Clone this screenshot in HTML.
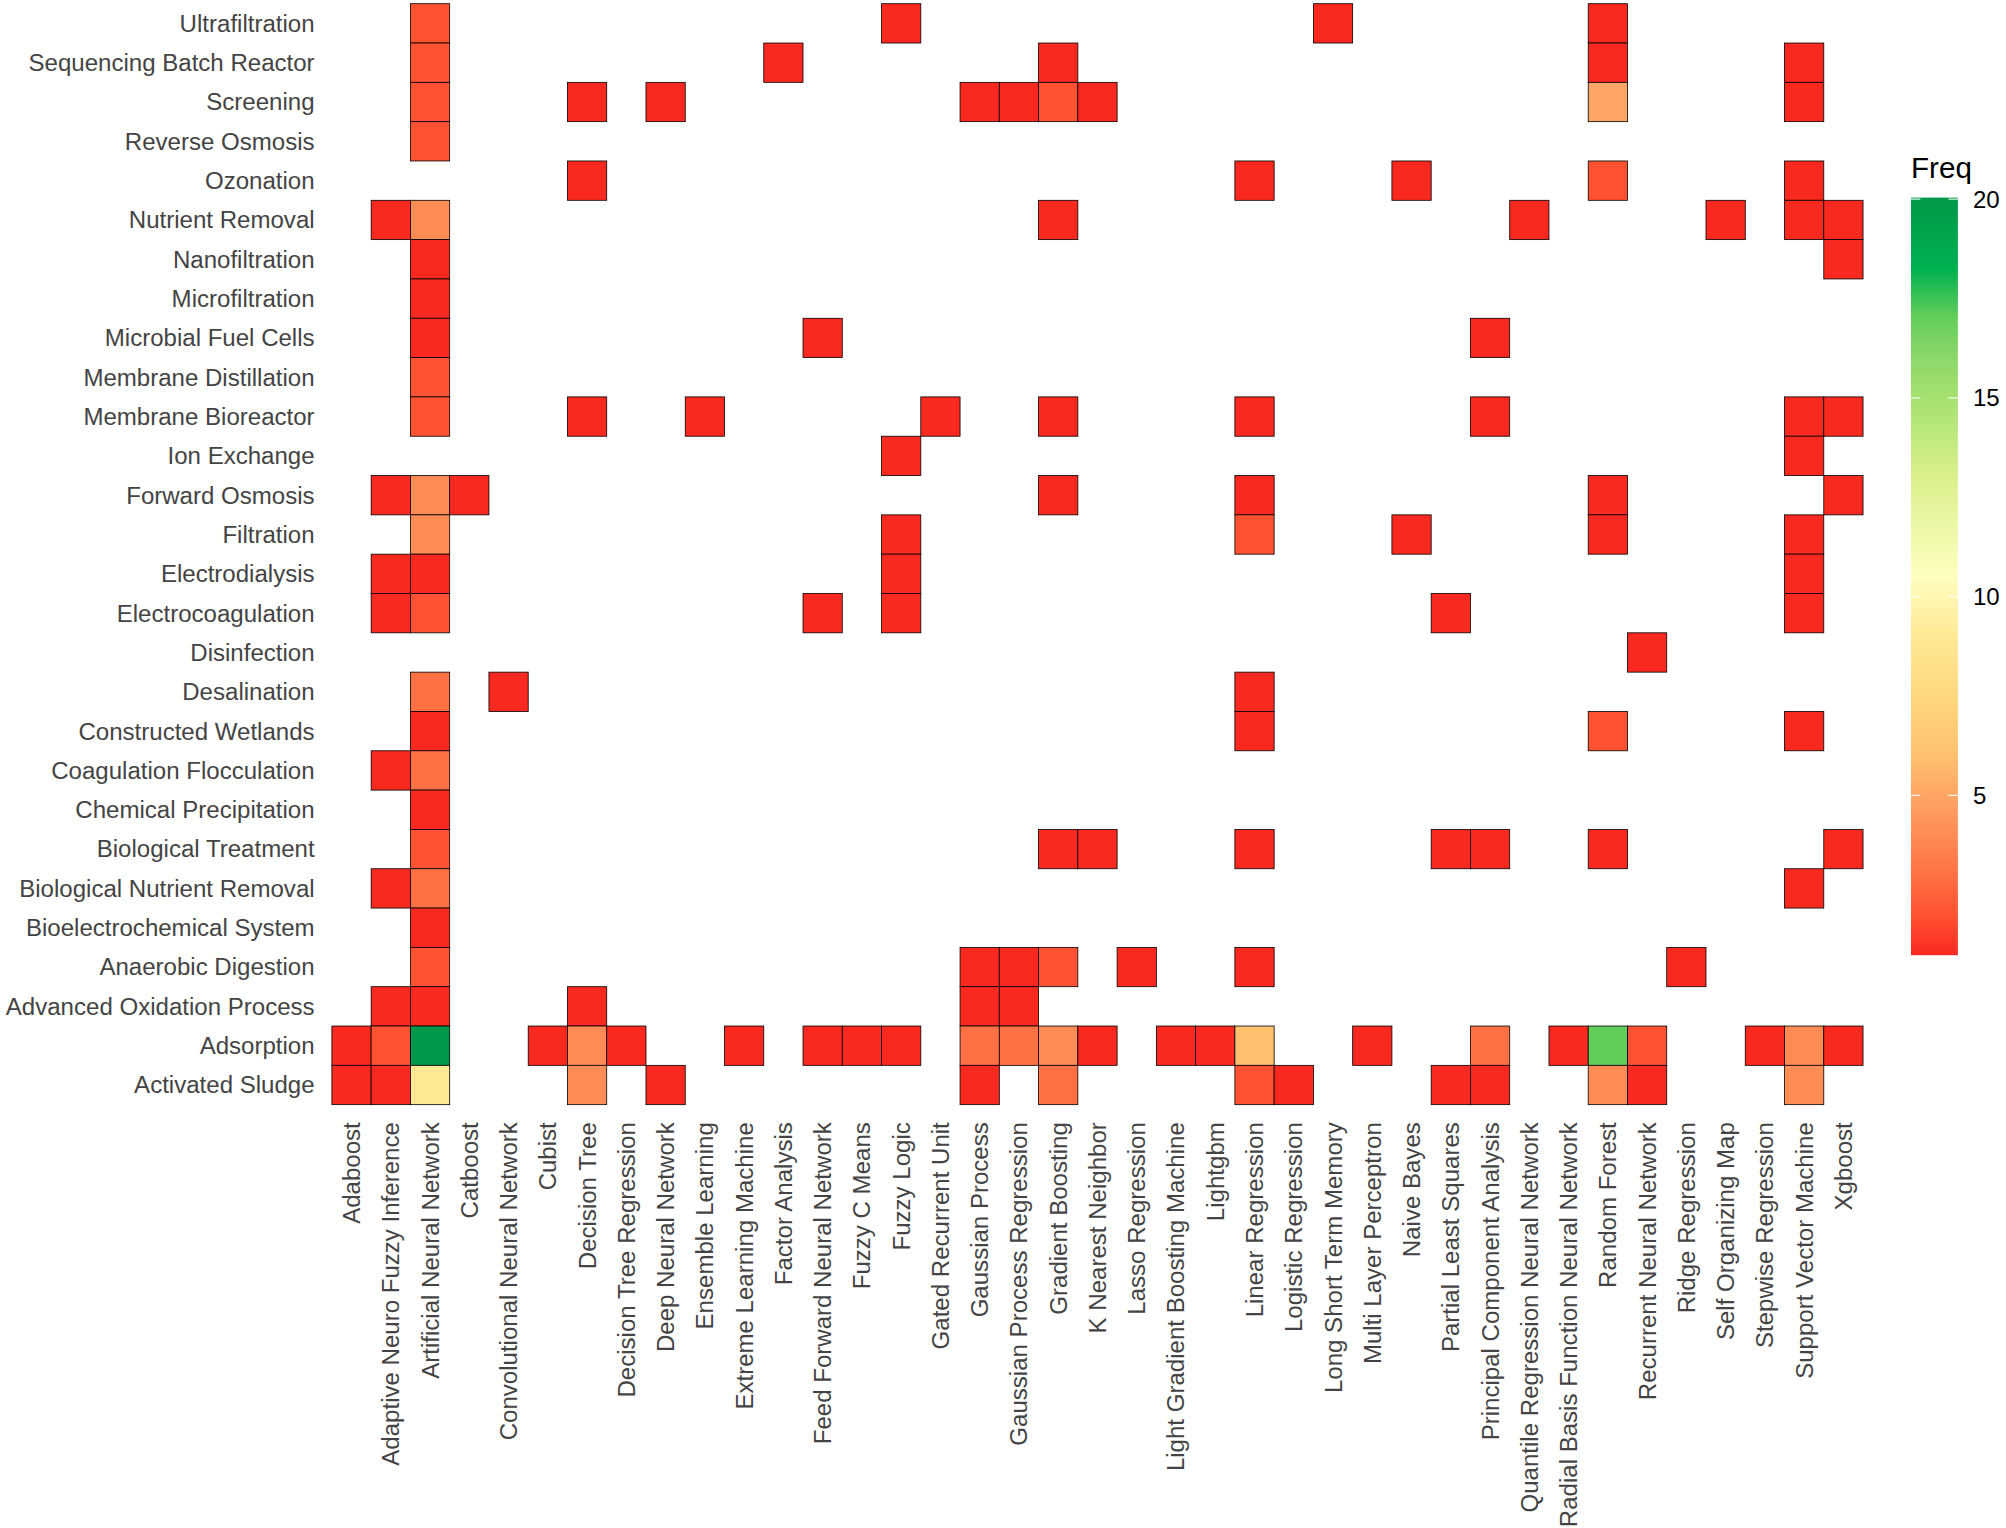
<!DOCTYPE html>
<html lang="en"><head><meta charset="utf-8"><title>Heatmap</title>
<style>
html,body{margin:0;padding:0;background:#fff;}
body{width:2006px;height:1528px;overflow:hidden;}
svg{display:block;font-family:"Liberation Sans",Arial,Helvetica,sans-serif;}
.ax{font-size:24.05px;fill:#444444;}
.lg{font-size:24.05px;fill:#000;}
.lt{font-size:29.6px;fill:#000;}
.c{stroke:#000;stroke-width:0.8;}
</style></head><body>
<svg width="2006" height="1528" viewBox="0 0 2006 1528">
<defs><linearGradient id="g" x1="0" y1="1" x2="0" y2="0">
<stop offset="0.00%" stop-color="#F92920"/>
<stop offset="5.26%" stop-color="#FF5232"/>
<stop offset="10.53%" stop-color="#FF7043"/>
<stop offset="15.79%" stop-color="#FF8C55"/>
<stop offset="21.05%" stop-color="#FFA565"/>
<stop offset="26.32%" stop-color="#FFC070"/>
<stop offset="34.21%" stop-color="#FFD880"/>
<stop offset="42.11%" stop-color="#FFE894"/>
<stop offset="50.00%" stop-color="#FFFFBF"/>
<stop offset="63.16%" stop-color="#DAF08C"/>
<stop offset="73.68%" stop-color="#A5E170"/>
<stop offset="78.95%" stop-color="#8CD769"/>
<stop offset="84.21%" stop-color="#62CE5A"/>
<stop offset="87.37%" stop-color="#32C055"/>
<stop offset="90.53%" stop-color="#00B150"/>
<stop offset="100.00%" stop-color="#00984A"/>
</linearGradient></defs>
<rect width="2006" height="1528" fill="#fff"/>
<g class="c">
<rect x="410.42" y="3.70" width="39.26" height="39.32" fill="#FF5232"/>
<rect x="881.54" y="3.70" width="39.26" height="39.32" fill="#F92920"/>
<rect x="1313.40" y="3.70" width="39.26" height="39.32" fill="#F92920"/>
<rect x="1588.22" y="3.70" width="39.26" height="39.32" fill="#F92920"/>
<rect x="410.42" y="43.02" width="39.26" height="39.32" fill="#FF5232"/>
<rect x="763.76" y="43.02" width="39.26" height="39.32" fill="#F92920"/>
<rect x="1038.58" y="43.02" width="39.26" height="39.32" fill="#F92920"/>
<rect x="1588.22" y="43.02" width="39.26" height="39.32" fill="#F92920"/>
<rect x="1784.52" y="43.02" width="39.26" height="39.32" fill="#F92920"/>
<rect x="410.42" y="82.34" width="39.26" height="39.32" fill="#FF5232"/>
<rect x="567.46" y="82.34" width="39.26" height="39.32" fill="#F92920"/>
<rect x="645.98" y="82.34" width="39.26" height="39.32" fill="#F92920"/>
<rect x="960.06" y="82.34" width="39.26" height="39.32" fill="#F92920"/>
<rect x="999.32" y="82.34" width="39.26" height="39.32" fill="#F92920"/>
<rect x="1038.58" y="82.34" width="39.26" height="39.32" fill="#FF5232"/>
<rect x="1077.84" y="82.34" width="39.26" height="39.32" fill="#F92920"/>
<rect x="1588.22" y="82.34" width="39.26" height="39.32" fill="#FFA565"/>
<rect x="1784.52" y="82.34" width="39.26" height="39.32" fill="#F92920"/>
<rect x="410.42" y="121.66" width="39.26" height="39.32" fill="#FF5232"/>
<rect x="567.46" y="160.98" width="39.26" height="39.32" fill="#F92920"/>
<rect x="1234.88" y="160.98" width="39.26" height="39.32" fill="#F92920"/>
<rect x="1391.92" y="160.98" width="39.26" height="39.32" fill="#F92920"/>
<rect x="1588.22" y="160.98" width="39.26" height="39.32" fill="#FF5232"/>
<rect x="1784.52" y="160.98" width="39.26" height="39.32" fill="#F92920"/>
<rect x="371.16" y="200.30" width="39.26" height="39.32" fill="#F92920"/>
<rect x="410.42" y="200.30" width="39.26" height="39.32" fill="#FF8C55"/>
<rect x="1038.58" y="200.30" width="39.26" height="39.32" fill="#F92920"/>
<rect x="1509.70" y="200.30" width="39.26" height="39.32" fill="#F92920"/>
<rect x="1706.00" y="200.30" width="39.26" height="39.32" fill="#F92920"/>
<rect x="1784.52" y="200.30" width="39.26" height="39.32" fill="#F92920"/>
<rect x="1823.78" y="200.30" width="39.26" height="39.32" fill="#F92920"/>
<rect x="410.42" y="239.62" width="39.26" height="39.32" fill="#F92920"/>
<rect x="1823.78" y="239.62" width="39.26" height="39.32" fill="#F92920"/>
<rect x="410.42" y="278.94" width="39.26" height="39.32" fill="#F92920"/>
<rect x="410.42" y="318.26" width="39.26" height="39.32" fill="#F92920"/>
<rect x="803.02" y="318.26" width="39.26" height="39.32" fill="#F92920"/>
<rect x="1470.44" y="318.26" width="39.26" height="39.32" fill="#F92920"/>
<rect x="410.42" y="357.58" width="39.26" height="39.32" fill="#FF5232"/>
<rect x="410.42" y="396.90" width="39.26" height="39.32" fill="#FF5232"/>
<rect x="567.46" y="396.90" width="39.26" height="39.32" fill="#F92920"/>
<rect x="685.24" y="396.90" width="39.26" height="39.32" fill="#F92920"/>
<rect x="920.80" y="396.90" width="39.26" height="39.32" fill="#F92920"/>
<rect x="1038.58" y="396.90" width="39.26" height="39.32" fill="#F92920"/>
<rect x="1234.88" y="396.90" width="39.26" height="39.32" fill="#F92920"/>
<rect x="1470.44" y="396.90" width="39.26" height="39.32" fill="#F92920"/>
<rect x="1784.52" y="396.90" width="39.26" height="39.32" fill="#F92920"/>
<rect x="1823.78" y="396.90" width="39.26" height="39.32" fill="#F92920"/>
<rect x="881.54" y="436.22" width="39.26" height="39.32" fill="#F92920"/>
<rect x="1784.52" y="436.22" width="39.26" height="39.32" fill="#F92920"/>
<rect x="371.16" y="475.54" width="39.26" height="39.32" fill="#F92920"/>
<rect x="410.42" y="475.54" width="39.26" height="39.32" fill="#FF8C55"/>
<rect x="449.68" y="475.54" width="39.26" height="39.32" fill="#F92920"/>
<rect x="1038.58" y="475.54" width="39.26" height="39.32" fill="#F92920"/>
<rect x="1234.88" y="475.54" width="39.26" height="39.32" fill="#F92920"/>
<rect x="1588.22" y="475.54" width="39.26" height="39.32" fill="#F92920"/>
<rect x="1823.78" y="475.54" width="39.26" height="39.32" fill="#F92920"/>
<rect x="410.42" y="514.86" width="39.26" height="39.32" fill="#FF8C55"/>
<rect x="881.54" y="514.86" width="39.26" height="39.32" fill="#F92920"/>
<rect x="1234.88" y="514.86" width="39.26" height="39.32" fill="#FF5232"/>
<rect x="1391.92" y="514.86" width="39.26" height="39.32" fill="#F92920"/>
<rect x="1588.22" y="514.86" width="39.26" height="39.32" fill="#F92920"/>
<rect x="1784.52" y="514.86" width="39.26" height="39.32" fill="#F92920"/>
<rect x="371.16" y="554.18" width="39.26" height="39.32" fill="#F92920"/>
<rect x="410.42" y="554.18" width="39.26" height="39.32" fill="#F92920"/>
<rect x="881.54" y="554.18" width="39.26" height="39.32" fill="#F92920"/>
<rect x="1784.52" y="554.18" width="39.26" height="39.32" fill="#F92920"/>
<rect x="371.16" y="593.50" width="39.26" height="39.32" fill="#F92920"/>
<rect x="410.42" y="593.50" width="39.26" height="39.32" fill="#FF5232"/>
<rect x="803.02" y="593.50" width="39.26" height="39.32" fill="#F92920"/>
<rect x="881.54" y="593.50" width="39.26" height="39.32" fill="#F92920"/>
<rect x="1431.18" y="593.50" width="39.26" height="39.32" fill="#F92920"/>
<rect x="1784.52" y="593.50" width="39.26" height="39.32" fill="#F92920"/>
<rect x="1627.48" y="632.82" width="39.26" height="39.32" fill="#F92920"/>
<rect x="410.42" y="672.14" width="39.26" height="39.32" fill="#FF7043"/>
<rect x="488.94" y="672.14" width="39.26" height="39.32" fill="#F92920"/>
<rect x="1234.88" y="672.14" width="39.26" height="39.32" fill="#F92920"/>
<rect x="410.42" y="711.46" width="39.26" height="39.32" fill="#F92920"/>
<rect x="1234.88" y="711.46" width="39.26" height="39.32" fill="#F92920"/>
<rect x="1588.22" y="711.46" width="39.26" height="39.32" fill="#FF5232"/>
<rect x="1784.52" y="711.46" width="39.26" height="39.32" fill="#F92920"/>
<rect x="371.16" y="750.78" width="39.26" height="39.32" fill="#F92920"/>
<rect x="410.42" y="750.78" width="39.26" height="39.32" fill="#FF7043"/>
<rect x="410.42" y="790.10" width="39.26" height="39.32" fill="#F92920"/>
<rect x="410.42" y="829.42" width="39.26" height="39.32" fill="#FF5232"/>
<rect x="1038.58" y="829.42" width="39.26" height="39.32" fill="#F92920"/>
<rect x="1077.84" y="829.42" width="39.26" height="39.32" fill="#F92920"/>
<rect x="1234.88" y="829.42" width="39.26" height="39.32" fill="#F92920"/>
<rect x="1431.18" y="829.42" width="39.26" height="39.32" fill="#F92920"/>
<rect x="1470.44" y="829.42" width="39.26" height="39.32" fill="#F92920"/>
<rect x="1588.22" y="829.42" width="39.26" height="39.32" fill="#F92920"/>
<rect x="1823.78" y="829.42" width="39.26" height="39.32" fill="#F92920"/>
<rect x="371.16" y="868.74" width="39.26" height="39.32" fill="#F92920"/>
<rect x="410.42" y="868.74" width="39.26" height="39.32" fill="#FF7043"/>
<rect x="1784.52" y="868.74" width="39.26" height="39.32" fill="#F92920"/>
<rect x="410.42" y="908.06" width="39.26" height="39.32" fill="#F92920"/>
<rect x="410.42" y="947.38" width="39.26" height="39.32" fill="#FF5232"/>
<rect x="960.06" y="947.38" width="39.26" height="39.32" fill="#F92920"/>
<rect x="999.32" y="947.38" width="39.26" height="39.32" fill="#F92920"/>
<rect x="1038.58" y="947.38" width="39.26" height="39.32" fill="#FF5232"/>
<rect x="1117.10" y="947.38" width="39.26" height="39.32" fill="#F92920"/>
<rect x="1234.88" y="947.38" width="39.26" height="39.32" fill="#F92920"/>
<rect x="1666.74" y="947.38" width="39.26" height="39.32" fill="#F92920"/>
<rect x="371.16" y="986.70" width="39.26" height="39.32" fill="#F92920"/>
<rect x="410.42" y="986.70" width="39.26" height="39.32" fill="#F92920"/>
<rect x="567.46" y="986.70" width="39.26" height="39.32" fill="#F92920"/>
<rect x="960.06" y="986.70" width="39.26" height="39.32" fill="#F92920"/>
<rect x="999.32" y="986.70" width="39.26" height="39.32" fill="#F92920"/>
<rect x="331.90" y="1026.02" width="39.26" height="39.32" fill="#F92920"/>
<rect x="371.16" y="1026.02" width="39.26" height="39.32" fill="#FF5232"/>
<rect x="410.42" y="1026.02" width="39.26" height="39.32" fill="#00984A"/>
<rect x="528.20" y="1026.02" width="39.26" height="39.32" fill="#F92920"/>
<rect x="567.46" y="1026.02" width="39.26" height="39.32" fill="#FF8C55"/>
<rect x="606.72" y="1026.02" width="39.26" height="39.32" fill="#F92920"/>
<rect x="724.50" y="1026.02" width="39.26" height="39.32" fill="#F92920"/>
<rect x="803.02" y="1026.02" width="39.26" height="39.32" fill="#F92920"/>
<rect x="842.28" y="1026.02" width="39.26" height="39.32" fill="#F92920"/>
<rect x="881.54" y="1026.02" width="39.26" height="39.32" fill="#F92920"/>
<rect x="960.06" y="1026.02" width="39.26" height="39.32" fill="#FF7043"/>
<rect x="999.32" y="1026.02" width="39.26" height="39.32" fill="#FF7043"/>
<rect x="1038.58" y="1026.02" width="39.26" height="39.32" fill="#FF8C55"/>
<rect x="1077.84" y="1026.02" width="39.26" height="39.32" fill="#F92920"/>
<rect x="1156.36" y="1026.02" width="39.26" height="39.32" fill="#F92920"/>
<rect x="1195.62" y="1026.02" width="39.26" height="39.32" fill="#F92920"/>
<rect x="1234.88" y="1026.02" width="39.26" height="39.32" fill="#FFC070"/>
<rect x="1352.66" y="1026.02" width="39.26" height="39.32" fill="#F92920"/>
<rect x="1470.44" y="1026.02" width="39.26" height="39.32" fill="#FF7043"/>
<rect x="1548.96" y="1026.02" width="39.26" height="39.32" fill="#F92920"/>
<rect x="1588.22" y="1026.02" width="39.26" height="39.32" fill="#62CE5A"/>
<rect x="1627.48" y="1026.02" width="39.26" height="39.32" fill="#FF5232"/>
<rect x="1745.26" y="1026.02" width="39.26" height="39.32" fill="#F92920"/>
<rect x="1784.52" y="1026.02" width="39.26" height="39.32" fill="#FF8C55"/>
<rect x="1823.78" y="1026.02" width="39.26" height="39.32" fill="#F92920"/>
<rect x="331.90" y="1065.34" width="39.26" height="39.32" fill="#F92920"/>
<rect x="371.16" y="1065.34" width="39.26" height="39.32" fill="#F92920"/>
<rect x="410.42" y="1065.34" width="39.26" height="39.32" fill="#FFE894"/>
<rect x="567.46" y="1065.34" width="39.26" height="39.32" fill="#FF8C55"/>
<rect x="645.98" y="1065.34" width="39.26" height="39.32" fill="#F92920"/>
<rect x="960.06" y="1065.34" width="39.26" height="39.32" fill="#F92920"/>
<rect x="1038.58" y="1065.34" width="39.26" height="39.32" fill="#FF7043"/>
<rect x="1234.88" y="1065.34" width="39.26" height="39.32" fill="#FF5232"/>
<rect x="1274.14" y="1065.34" width="39.26" height="39.32" fill="#F92920"/>
<rect x="1431.18" y="1065.34" width="39.26" height="39.32" fill="#F92920"/>
<rect x="1470.44" y="1065.34" width="39.26" height="39.32" fill="#F92920"/>
<rect x="1588.22" y="1065.34" width="39.26" height="39.32" fill="#FF8C55"/>
<rect x="1627.48" y="1065.34" width="39.26" height="39.32" fill="#F92920"/>
<rect x="1784.52" y="1065.34" width="39.26" height="39.32" fill="#FF8C55"/>
</g>
<g class="ax" text-anchor="end">
<text x="314.6" y="31.76">Ultrafiltration</text>
<text x="314.6" y="71.08">Sequencing Batch Reactor</text>
<text x="314.6" y="110.40">Screening</text>
<text x="314.6" y="149.72">Reverse Osmosis</text>
<text x="314.6" y="189.04">Ozonation</text>
<text x="314.6" y="228.36">Nutrient Removal</text>
<text x="314.6" y="267.68">Nanofiltration</text>
<text x="314.6" y="307.00">Microfiltration</text>
<text x="314.6" y="346.32">Microbial Fuel Cells</text>
<text x="314.6" y="385.64">Membrane Distillation</text>
<text x="314.6" y="424.96">Membrane Bioreactor</text>
<text x="314.6" y="464.28">Ion Exchange</text>
<text x="314.6" y="503.60">Forward Osmosis</text>
<text x="314.6" y="542.92">Filtration</text>
<text x="314.6" y="582.24">Electrodialysis</text>
<text x="314.6" y="621.56">Electrocoagulation</text>
<text x="314.6" y="660.88">Disinfection</text>
<text x="314.6" y="700.20">Desalination</text>
<text x="314.6" y="739.52">Constructed Wetlands</text>
<text x="314.6" y="778.84">Coagulation Flocculation</text>
<text x="314.6" y="818.16">Chemical Precipitation</text>
<text x="314.6" y="857.48">Biological Treatment</text>
<text x="314.6" y="896.80">Biological Nutrient Removal</text>
<text x="314.6" y="936.12">Bioelectrochemical System</text>
<text x="314.6" y="975.44">Anaerobic Digestion</text>
<text x="314.6" y="1014.76">Advanced Oxidation Process</text>
<text x="314.6" y="1054.08">Adsorption</text>
<text x="314.6" y="1093.40">Activated Sludge</text>
</g>
<g class="ax" text-anchor="end">
<text transform="translate(360.03 1122.2) rotate(-90)">Adaboost</text>
<text transform="translate(399.29 1122.2) rotate(-90)">Adaptive Neuro Fuzzy Inference</text>
<text transform="translate(438.55 1122.2) rotate(-90)">Artificial Neural Network</text>
<text transform="translate(477.81 1122.2) rotate(-90)">Catboost</text>
<text transform="translate(517.07 1122.2) rotate(-90)">Convolutional Neural Network</text>
<text transform="translate(556.33 1122.2) rotate(-90)">Cubist</text>
<text transform="translate(595.59 1122.2) rotate(-90)">Decision Tree</text>
<text transform="translate(634.85 1122.2) rotate(-90)">Decision Tree Regression</text>
<text transform="translate(674.11 1122.2) rotate(-90)">Deep Neural Network</text>
<text transform="translate(713.37 1122.2) rotate(-90)">Ensemble Learning</text>
<text transform="translate(752.63 1122.2) rotate(-90)">Extreme Learning Machine</text>
<text transform="translate(791.89 1122.2) rotate(-90)">Factor Analysis</text>
<text transform="translate(831.15 1122.2) rotate(-90)">Feed Forward Neural Network</text>
<text transform="translate(870.41 1122.2) rotate(-90)">Fuzzy C Means</text>
<text transform="translate(909.67 1122.2) rotate(-90)">Fuzzy Logic</text>
<text transform="translate(948.93 1122.2) rotate(-90)">Gated Recurrent Unit</text>
<text transform="translate(988.19 1122.2) rotate(-90)">Gaussian Process</text>
<text transform="translate(1027.45 1122.2) rotate(-90)">Gaussian Process Regression</text>
<text transform="translate(1066.71 1122.2) rotate(-90)">Gradient Boosting</text>
<text transform="translate(1105.97 1122.2) rotate(-90)">K Nearest Neighbor</text>
<text transform="translate(1145.23 1122.2) rotate(-90)">Lasso Regression</text>
<text transform="translate(1184.49 1122.2) rotate(-90)">Light Gradient Boosting Machine</text>
<text transform="translate(1223.75 1122.2) rotate(-90)">Lightgbm</text>
<text transform="translate(1263.01 1122.2) rotate(-90)">Linear Regression</text>
<text transform="translate(1302.27 1122.2) rotate(-90)">Logistic Regression</text>
<text transform="translate(1341.53 1122.2) rotate(-90)">Long Short Term Memory</text>
<text transform="translate(1380.79 1122.2) rotate(-90)">Multi Layer Perceptron</text>
<text transform="translate(1420.05 1122.2) rotate(-90)">Naive Bayes</text>
<text transform="translate(1459.31 1122.2) rotate(-90)">Partial Least Squares</text>
<text transform="translate(1498.57 1122.2) rotate(-90)">Principal Component Analysis</text>
<text transform="translate(1537.83 1122.2) rotate(-90)">Quantile Regression Neural Network</text>
<text transform="translate(1577.09 1122.2) rotate(-90)">Radial Basis Function Neural Network</text>
<text transform="translate(1616.35 1122.2) rotate(-90)">Random Forest</text>
<text transform="translate(1655.61 1122.2) rotate(-90)">Recurrent Neural Network</text>
<text transform="translate(1694.87 1122.2) rotate(-90)">Ridge Regression</text>
<text transform="translate(1734.13 1122.2) rotate(-90)">Self Organizing Map</text>
<text transform="translate(1773.39 1122.2) rotate(-90)">Stepwise Regression</text>
<text transform="translate(1812.65 1122.2) rotate(-90)">Support Vector Machine</text>
<text transform="translate(1851.91 1122.2) rotate(-90)">Xgboost</text>
</g>
<text class="lt" x="1911" y="178">Freq</text>
<rect x="1911" y="197.6" width="46.9" height="757.60" fill="url(#g)"/>
<path d="M1911 795.45h9.38M1948.52 795.45h9.38" stroke="#fff" stroke-opacity="0.85" stroke-width="1.2" fill="none"/>
<text class="lg" x="1973" y="803.85">5</text>
<path d="M1911 596.70h9.38M1948.52 596.70h9.38" stroke="#fff" stroke-opacity="0.85" stroke-width="1.2" fill="none"/>
<text class="lg" x="1973" y="605.10">10</text>
<path d="M1911 397.95h9.38M1948.52 397.95h9.38" stroke="#fff" stroke-opacity="0.85" stroke-width="1.2" fill="none"/>
<text class="lg" x="1973" y="406.35">15</text>
<path d="M1911 199.20h9.38M1948.52 199.20h9.38" stroke="#fff" stroke-opacity="0.85" stroke-width="1.2" fill="none"/>
<text class="lg" x="1973" y="207.60">20</text>
</svg></body></html>
